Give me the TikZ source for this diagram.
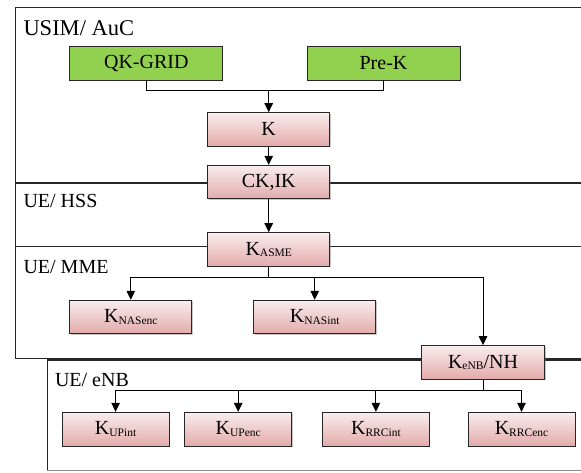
\documentclass[tikz,border=0pt]{standalone}
\usepackage{fontspec}
\setmainfont{Liberation Serif}
\usetikzlibrary{arrows.meta,shadows}
\definecolor{leafgreen}{RGB}{146,208,80}
\definecolor{rosetop}{RGB}{249,237,237}
\definecolor{rosebot}{RGB}{226,171,170}
\definecolor{zonegray}{RGB}{140,140,140}
\newcommand{\ksub}[1]{\raisebox{-1.6pt}{\fontsize{11.5}{12}\selectfont #1}}

\begin{document}
\begin{tikzpicture}[
    x=1pt, y=-1pt,
    every node/.style={font=\fontsize{20}{24}\selectfont, inner sep=0pt},
    seedbox/.style={draw=black!85, line width=0.9pt, fill=leafgreen, minimum width=153pt, minimum height=34pt},
    keybox/.style={draw=black!85, line width=0.9pt, top color=rosetop, bottom color=rosebot,
        minimum width=122pt, minimum height=33.5pt,
        drop shadow={shadow xshift=1pt, shadow yshift=-1pt, opacity=0.45, fill=gray}},
    smallkey/.style={keybox, minimum width=107pt, minimum height=34pt},
    zonelabel/.style={anchor=base west},
    zoneline/.style={draw=black!85, line width=1.1pt},
    link/.style={line width=1pt},
    >={Triangle[length=9pt, width=8.5pt]}
]
    \useasboundingbox (0,0) rectangle (581,472);

    % zones
    \draw[zoneline] (581,7.8) -- (15.6,7.8) -- (15.6,358.7) -- (581,358.7);
    \draw[zoneline] (15.6,183) -- (581,183);
    \draw[zoneline] (15.6,246.5) -- (581,246.5);
    \draw[zoneline] (581,360) -- (47.3,360) -- (47.3,470.7);
    \draw[zoneline, draw=zonegray] (47.3,470.7) -- (581,470.7);

    \node[zonelabel, font=\fontsize{22.5}{26}\selectfont] (usim) at (23.3,35) {USIM/ AuC};
    \node[zonelabel] (hss) at (23.3,207.5) {UE/ HSS};
    \node[zonelabel] (mme) at (23.3,273) {UE/ MME};
    \node[zonelabel] (enb) at (54.8,386) {UE/ eNB};

    % keys
    \node[seedbox] (qkgrid) at (146.3,63) {QK-GRID};
    \node[seedbox] (prek) at (383.5,63) {Pre-K};
    \node[keybox] (k) at (268.7,129.4) {K};
    \node[keybox] (ckik) at (268.7,182) {CK,IK};
    \node[keybox] (kasme) at (268.7,249.4) {K\ksub{ASME}};
    \node[keybox] (nasenc) at (130.8,317) {K\ksub{NASenc}};
    \node[keybox] (nasint) at (314.7,317) {K\ksub{NASint}};
    \node[keybox, minimum width=123pt] (kenb) at (483,362.4) {K\ksub{eNB}/NH};
    \node[smallkey] (upint) at (115.6,429.3) {K\ksub{UPint}};
    \node[smallkey] (upenc) at (238.2,429.3) {K\ksub{UPenc}};
    \node[smallkey] (rrcint) at (375.9,429.3) {K\ksub{RRCint}};
    \node[smallkey] (rrcenc) at (521.5,429.3) {K\ksub{RRCenc}};

    \coordinate (seedjoin) at (268.7,90.7);
    \coordinate (asmejoin) at (268.7,277.7);
    \coordinate (enbjoin) at (483,390);

    % links
    \draw[link] (qkgrid.south) |- (seedjoin) -| (prek.south);
    \draw[link, ->] (seedjoin) -- (k.north);
    \draw[link, ->] (k) -- (ckik);
    \draw[link, ->] (ckik) -- (kasme);
    \draw[link] (kasme.south) -- (asmejoin);
    \draw[link, ->] (asmejoin) -| (nasenc.north);
    \draw[link, ->] (asmejoin) -| (nasint.north);
    \draw[link, ->] (asmejoin) -| (kenb.north);
    \draw[link] (kenb.south) -- (enbjoin);
    \draw[link, ->] (enbjoin) -| (upint.north);
    \draw[link, ->] (enbjoin) -| (upenc.north);
    \draw[link, ->] (enbjoin) -| (rrcint.north);
    \draw[link, ->] (enbjoin) -| (rrcenc.north);
\end{tikzpicture}
\end{document}
